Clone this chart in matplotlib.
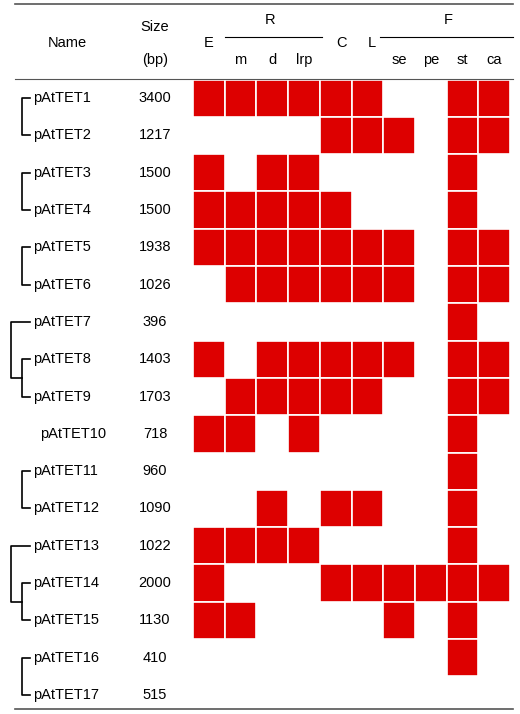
import matplotlib
matplotlib.use("Agg")
import matplotlib.pyplot as plt
from matplotlib.patches import Rectangle
plt.rcParams['font.family'] = ['Liberation Sans', 'DejaVu Sans']

names = [f"pAtTET{i}" for i in range(1, 18)]
sizes = [3400,1217,1500,1500,1938,1026,396,1403,1703,718,960,1090,1022,2000,1130,410,515]
cols = ["E","m","d","lrp","C","L","se","pe","st","ca"]
presence = [
 [1,1,1,1,1,1,0,0,1,1],
 [0,0,0,0,1,1,1,0,1,1],
 [1,0,1,1,0,0,0,0,1,0],
 [1,1,1,1,1,0,0,0,1,0],
 [1,1,1,1,1,1,1,0,1,1],
 [0,1,1,1,1,1,1,0,1,1],
 [0,0,0,0,0,0,0,0,1,0],
 [1,0,1,1,1,1,1,0,1,1],
 [0,1,1,1,1,1,0,0,1,1],
 [1,1,0,1,0,0,0,0,1,0],
 [0,0,0,0,0,0,0,0,1,0],
 [0,0,1,0,1,1,0,0,1,0],
 [1,1,1,1,0,0,0,0,1,0],
 [1,0,0,0,1,1,1,1,1,1],
 [1,1,0,0,0,0,1,0,1,0],
 [0,0,0,0,0,0,0,0,1,0],
 [0,0,0,0,0,0,0,0,0,0],
]
pairs = [(0,1),(2,3),(4,5),(10,11),(15,16)]
nested = [(6,(7,8)),(12,(13,14))]

fig = plt.figure(figsize=(5.2,7.14), dpi=100)
ax = fig.add_axes([0,0,1,1])
ax.set_xlim(0,520); ax.set_ylim(714,0); ax.axis("off")

x0, cw = 193, 31.7
y0, rh = 79.5, 37.3
red = "#dd0000"
fs = 10.5
for r,row in enumerate(presence):
    yc = y0 + rh*(r+0.5)
    for c,v in enumerate(row):
        if v:
            ax.add_patch(Rectangle((x0+c*cw, y0+r*rh), cw, rh, facecolor=red, edgecolor="white", lw=1.2))
    ax.text(40 if r==9 else 33, yc, names[r], ha="left", va="center", fontsize=fs)
    ax.text(155, yc, str(sizes[r]), ha="center", va="center", fontsize=fs)

def yc(r): return y0 + rh*(r+0.5)
def bracket(xv, ya, yb, xe=30):
    ax.plot([xe, xv, xv, xe], [ya, ya, yb, yb], color="k", lw=1.2)
for a,b in pairs:
    bracket(22, yc(a), yc(b))
for a,(b,c) in nested:
    bracket(22, yc(b), yc(c))
    ax.plot([30, 11, 11, 22], [yc(a), yc(a), (yc(b)+yc(c))/2, (yc(b)+yc(c))/2], color="k", lw=1.2)

ax.plot([15,513],[4,4], color="#555", lw=1.2)
ax.plot([15,513],[709,709], color="#555", lw=1.2)
ax.plot([15,513],[79,79], color="#555", lw=0.8)
ax.text(67, 43, "Name", ha="center", va="center", fontsize=fs)
ax.text(155, 27, "Size", ha="center", va="center", fontsize=fs)
ax.text(155, 60, "(bp)", ha="center", va="center", fontsize=fs)
xc = lambda c: x0 + cw*(c+0.5)
ax.text(xc(0), 43, "E", ha="center", va="center", fontsize=fs)
ax.text(xc(4)+6, 43, "C", ha="center", va="center", fontsize=fs)
ax.text(xc(5)+4, 43, "L", ha="center", va="center", fontsize=fs)
for c in [1,2,3,6,7,8,9]:
    ax.text(xc(c), 60, cols[c], ha="center", va="center", fontsize=fs)
ax.text(270, 20, "R", ha="center", va="center", fontsize=fs)
ax.plot([225,322],[37,37], color="k", lw=0.8)
ax.text(448, 20, "F", ha="center", va="center", fontsize=fs)
ax.plot([380,513],[37,37], color="k", lw=0.8)
fig.savefig("out.png", dpi=100)
